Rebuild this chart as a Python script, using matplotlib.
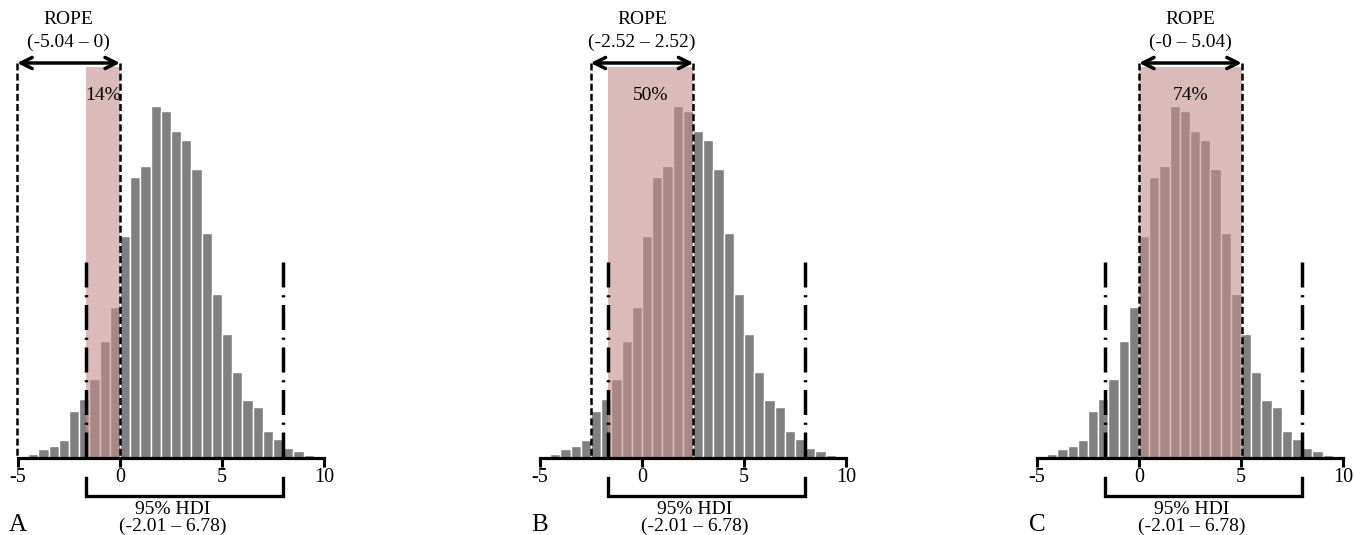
import numpy as np
import matplotlib
matplotlib.use('Agg')
import matplotlib.pyplot as plt

plt.rcParams['font.family'] = ['Liberation Serif', 'DejaVu Serif']
plt.rcParams['lines.scale_dashes'] = False

# histogram of posterior samples (bin width 0.5), same in all panels
bin_left = np.arange(-5.5, 10.0, 0.5)
counts = [1, 2, 4.5, 9, 12.5, 18.5, 47.5, 59, 79.5, 117.5, 151, 222, 281, 292.5,
          352, 347, 327.5, 318, 289, 225, 164, 124, 86, 58, 51, 27, 19.5, 10,
          7, 3.3, 2.3]

panel_labels = ['A', 'B', 'C']
rope_lo = [-5.04, -2.52, 0.0]
rope_hi = [0.0, 2.52, 5.04]
rope_text = ['(-5.04 – 0)', '(-2.52 – 2.52)', '(-0 – 5.04)']
rope_pct = ['14%', '50%', '74%']

# HDI limits as drawn in the figure, and as labelled
hdi_drawn = (-1.67, 8.0)
hdi_text = '(-2.01 – 6.78)'

xticks = [-5, 0, 5, 10]
xtick_labels = ['-5', '0', '5', '10']

W, H = 1354, 535
px = 20.4  # pixels per x unit
panel_left = [0, 522, 1019]
ax_w = 334

shade_color = (195 / 255, 142 / 255, 140 / 255)
fs = 14

fig = plt.figure(figsize=(W / 100, H / 100), dpi=100)

for i in range(3):
    ax = fig.add_axes([panel_left[i] / W, 0, ax_w / W, 1])
    x0 = -5 - 18 / px
    ax.set_xlim(x0, x0 + ax_w / px)
    ax.set_ylim(-77, 458)

    ax.bar(bin_left, counts, width=0.5, align='edge', color='#808080',
           edgecolor='white', linewidth=1.0, zorder=2)

    # shaded overlap of ROPE and HDI
    lo = max(rope_lo[i], hdi_drawn[0])
    hi = min(rope_hi[i], hdi_drawn[1])
    ax.fill_between([lo, hi], 0, 391, color=shade_color, alpha=0.6,
                    linewidth=0, zorder=3)
    ax.text((lo + hi) / 2, 363, rope_pct[i], ha='center', va='center',
            fontsize=fs, zorder=6)

    # ROPE limits and arrow
    for xv in (rope_lo[i], rope_hi[i]):
        ax.plot([xv, xv], [395, 0], color='black', lw=1.8,
                dashes=(5, 2.3), zorder=4)
    ax.annotate('', xy=(rope_lo[i], 395), xytext=(rope_hi[i], 395),
                arrowprops=dict(arrowstyle='<->', lw=2.5, color='black',
                                mutation_scale=20, shrinkA=0, shrinkB=0),
                zorder=5)
    rc = (rope_lo[i] + rope_hi[i]) / 2
    ax.text(rc, 438, 'ROPE', ha='center', va='center', fontsize=fs)
    ax.text(rc, 416, rope_text[i], ha='center', va='center', fontsize=fs)

    # HDI limits
    for xv in hdi_drawn:
        ax.plot([xv, xv], [196, 0], color='black', lw=2.5,
                dashes=(18, 5.5, 1.6, 5.5), zorder=4)
    ax.plot([hdi_drawn[0], hdi_drawn[0], hdi_drawn[1], hdi_drawn[1]],
            [-20, -38, -38, -20], color='black', lw=2.4,
            solid_joinstyle='miter', clip_on=False, zorder=5)
    ax.text(2.6, -52, '95% HDI', ha='center', va='center', fontsize=fs)
    ax.text(2.6, -68, hdi_text, ha='center', va='center', fontsize=fs)

    ax.text(-5.0, -67, panel_labels[i], ha='center', va='center', fontsize=18)

    # axis
    for s in ['left', 'right', 'top']:
        ax.spines[s].set_visible(False)
    ax.spines['bottom'].set_position(('data', 0))
    ax.spines['bottom'].set_bounds(-5, 10)
    ax.spines['bottom'].set_linewidth(2.3)
    ax.spines['bottom'].set_zorder(5)
    ax.set_yticks([])
    ax.set_xticks(xticks)
    ax.set_xticklabels(xtick_labels, fontsize=14.5)
    ax.tick_params(axis='x', direction='out', length=6.5, width=2.2, pad=1)
    ax.patch.set_alpha(0)

fig.savefig('out.png', dpi=100)
